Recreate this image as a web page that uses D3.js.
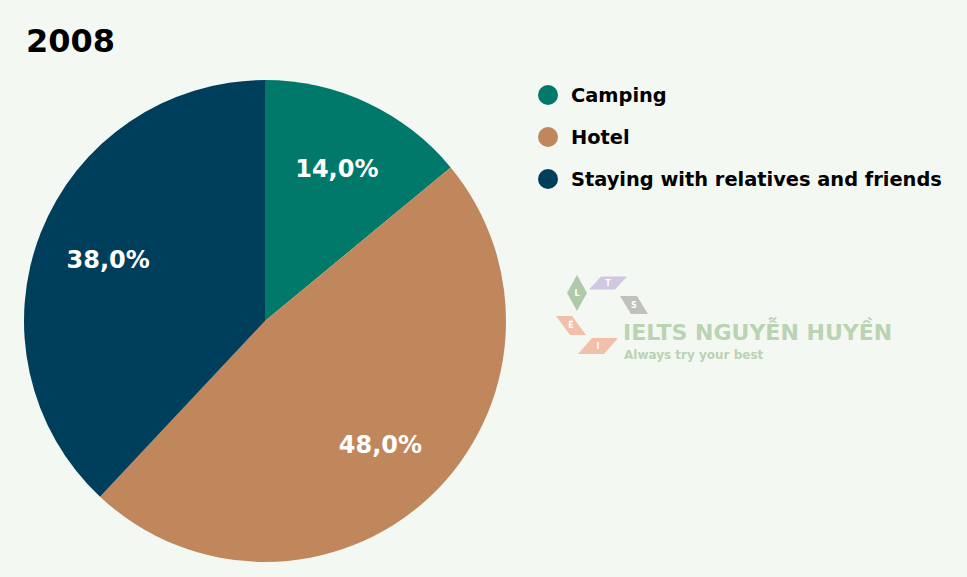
<!DOCTYPE html>
<html>
<head>
<meta charset="utf-8">
<script src="https://cdn.jsdelivr.net/npm/d3@7"></script>
<style>
  html, body { margin: 0; padding: 0; background: #f4f8f3; }
  svg text { font-family: "DejaVu Sans", Verdana, sans-serif; font-weight: bold; }
</style>
</head>
<body>
<div id="chart"></div>
<script>
// chart data
var title = "2008";
var categories = ["Camping", "Hotel", "Staying with relatives and friends"];
var values = [14, 48, 38];
var colors = ["#00796b", "#c0875c", "#003f5c"];

var width = 967, height = 577;
var cx = 265, cy = 321, radius = 241;

var svg = d3.select('#chart')
	.append('svg')
	.attr('width', width)
	.attr('height', height);

svg.append('rect')
	.attr('width', width)
	.attr('height', height)
	.attr('fill', '#f4f8f3');

svg.append('text')
	.attr('x', 26)
	.attr('y', 52)
	.attr('font-size', 32)
	.attr('fill', '#000')
	.text(title);

var pie = d3.pie().value(function(d) { return d; }).sort(null);
var arc = d3.arc().innerRadius(0).outerRadius(radius);
var labelArc = d3.arc().innerRadius(radius * 0.7).outerRadius(radius * 0.7);

var g = svg.append('g')
	.attr('transform', 'translate(' + cx + ',' + cy + ')');

var slices = pie(values);

g.selectAll('path')
	.data(slices)
	.enter()
	.append('path')
	.attr('d', arc)
	.attr('fill', function(d, i) { return colors[i]; });

var fmt = function(v) { return d3.format('.1f')(v).replace('.', ',') + '%'; };

g.selectAll('text.lbl')
	.data(slices)
	.enter()
	.append('text')
	.attr('class', 'lbl')
	.attr('transform', function(d) { return 'translate(' + labelArc.centroid(d) + ')'; })
	.attr('text-anchor', 'middle')
	.attr('dy', '0.36em')
	.attr('font-size', 24)
	.attr('fill', '#fff')
	.text(function(d) { return fmt(d.data); });

// legend
var legendY = d3.scalePoint().domain(categories).range([95, 179]);

var legend = svg.append('g')
	.selectAll('g')
	.data(categories)
	.enter()
	.append('g')
	.attr('transform', function(d) { return 'translate(548,' + legendY(d) + ')'; });

legend.append('circle')
	.attr('r', 10)
	.attr('fill', function(d, i) { return colors[i]; });

legend.append('text')
	.attr('x', 23)
	.attr('dy', '0.36em')
	.attr('font-size', 19.4)
	.attr('fill', '#000')
	.text(function(d) { return d; });

// watermark
var wm = svg.append('g').attr('opacity', 0.9);

function para(x, y, w, h, skew, fill, letter) {
	var p = [[x - w/2 + skew, y - h/2], [x + w/2 + skew, y - h/2], [x + w/2 - skew, y + h/2], [x - w/2 - skew, y + h/2]];
	wm.append('path')
		.attr('d', 'M' + p.join('L') + 'Z')
		.attr('fill', fill);
	wm.append('text')
		.attr('x', x).attr('y', y)
		.attr('dy', '0.36em')
		.attr('text-anchor', 'middle')
		.attr('font-size', 8)
		.attr('fill', '#fff')
		.text(letter);
}

// L diamond
wm.append('path')
	.attr('d', 'M577,275L587,293L577,311L567,293Z')
	.attr('fill', '#a8c6a2');
wm.append('text').attr('x', 577).attr('y', 293).attr('dy', '0.36em')
	.attr('text-anchor', 'middle').attr('font-size', 8).attr('fill', '#fff').text('L');
para(608, 283, 26, 13, 6, '#cdc2e2', 'T');
wm.append('path')
	.attr('d', 'M620,296L637,296L648,314L631,314Z')
	.attr('fill', '#b9bdb6');
wm.append('text').attr('x', 634).attr('y', 305).attr('dy', '0.36em')
	.attr('text-anchor', 'middle').attr('font-size', 8).attr('fill', '#fff').text('S');
wm.append('path')
	.attr('d', 'M556,316L572,316L586,335L570,335Z')
	.attr('fill', '#f2baa3');
wm.append('text').attr('x', 571).attr('y', 325).attr('dy', '0.36em')
	.attr('text-anchor', 'middle').attr('font-size', 8).attr('fill', '#fff').text('É');
para(598, 346, 26, 16, 7, '#f2baa3', 'I');

wm.append('text')
	.attr('x', 623)
	.attr('y', 340)
	.attr('font-size', 22)
	.attr('fill', '#b4cfac')
	.text('IELTS NGUYỄN HUYỀN');

wm.append('text')
	.attr('x', 624)
	.attr('y', 359)
	.attr('font-size', 12)
	.attr('fill', '#b4cfac')
	.text('Always try your best');
</script>
</body>
</html>
